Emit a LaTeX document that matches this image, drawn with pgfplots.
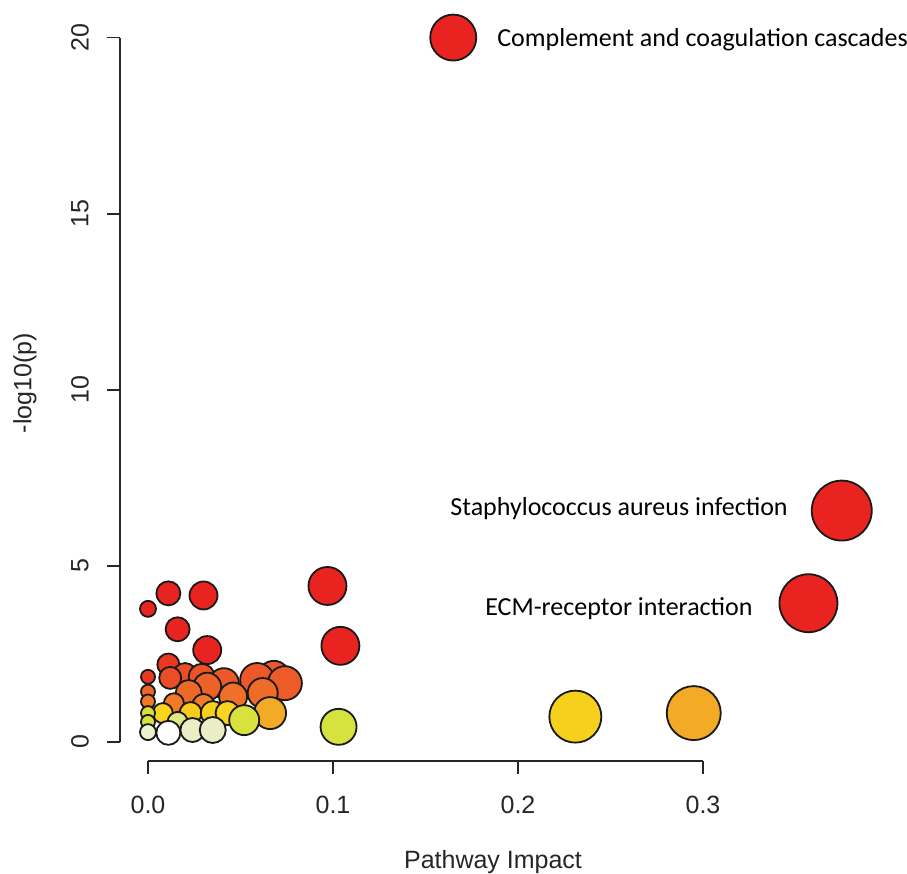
\documentclass[border=0pt]{standalone}
\usepackage{pgfplots}
\pgfplotsset{compat=1.18}
\usepackage{pgfplotstable}
\usepackage{fontspec}
\setmainfont{Liberation Sans}
\newfontfamily\calibri{Carlito}

\pgfplotstableread{
x y r c
0.165 20.00 11.5 7
0.375 6.57 15.0 7
0.097 4.43 9.5 7
0.011 4.22 6.0 7
0.030 4.16 7.0 7
0.357 3.94 14.5 7
0.000 3.78 4.0 7
0.016 3.20 6.0 7
0.104 2.73 9.5 7
0.032 2.61 7.0 7
0.011 2.20 5.5 6.6
0.020 1.90 6.0 6.2
0.000 1.85 3.5 6.6
0.029 1.85 6.5 6.1
0.068 1.85 8.0 6.0
0.012 1.82 5.5 6.2
0.059 1.76 8.5 6.0
0.041 1.67 7.5 6.0
0.074 1.67 8.5 5.9
0.032 1.57 7.0 5.7
0.000 1.43 3.5 5.6
0.022 1.39 6.5 5.5
0.062 1.39 7.5 5.4
0.046 1.29 7.0 5.3
0.000 1.15 3.5 5.0
0.014 1.10 5.0 5.0
0.030 1.05 5.5 4.9
0.295 0.82 13.5 3.8
0.066 0.82 8.0 3.8
0.008 0.82 5.0 3.0
0.023 0.82 5.5 3.2
0.035 0.82 6.0 3.1
0.043 0.82 6.0 3.0
0.000 0.82 3.5 2.2
0.231 0.72 13.0 3.1
0.052 0.62 7.5 2.1
0.000 0.57 3.5 2.0
0.016 0.57 5.0 1.5
0.103 0.43 9.0 2.0
0.024 0.34 6.0 1.0
0.035 0.34 6.5 1.0
0.000 0.28 4.0 0.8
0.011 0.26 6.0 0.0
}\bubbles

\begin{document}
\begin{tikzpicture}
\useasboundingbox (-60pt,-56.5pt) rectangle (393.5pt,380.5pt);
\begin{axis}[
  x=925pt, y=17.61pt,
  xmin=-0.01514, xmax=0.388, ymin=-0.54, ymax=20.9,
  axis lines=none, clip=false,
  colormap={heat}{rgb255=(255,255,255) rgb255=(233,238,196) rgb255=(214,226,64) rgb255=(248,212,28) rgb255=(242,160,40) rgb255=(240,122,40) rgb255=(236,88,40) rgb255=(232,35,32)},
  point meta min=0, point meta max=7,
]
\addplot[scatter, only marks, mark=*, scatter src=explicit,
  scatter/use mapped color={draw=black!90, fill=mapped color},
  mark options={line width=0.9pt},
  visualization depends on={\thisrow{r} \as \rad},
  scatter/@pre marker code/.append style={/tikz/mark size=\rad}]
  table[x=x, y=y, meta=c] {\bubbles};

% y axis
\draw[line width=0.9pt, black!85] (axis cs:-0.01514,0) -- (axis cs:-0.01514,20);
\pgfplotsinvokeforeach{0,5,10,15,20}{
  \draw[line width=0.9pt, black!85] (axis cs:-0.01514,#1) -- ([xshift=-6.5pt]axis cs:-0.01514,#1);
  \node[rotate=90, font=\fontsize{12.5}{14}\selectfont, text=black!85] at ([xshift=-20pt]axis cs:-0.01514,#1) {#1};
}
% x axis
\draw[line width=0.9pt, black!85] (axis cs:0,-0.54) -- (axis cs:0.3,-0.54);
\pgfplotsinvokeforeach{0.0,0.1,0.2,0.3}{
  \draw[line width=0.9pt, black!85] (axis cs:#1,-0.54) -- ([yshift=-6.5pt]axis cs:#1,-0.54);
  \node[font=\fontsize{12.5}{14}\selectfont, text=black!85] at ([yshift=-22pt]axis cs:#1,-0.54) {#1};
}
\node[font=\fontsize{12.5}{14}\selectfont, text=black!85] at ([yshift=-50.5pt]axis cs:0.1865,-0.54) {Pathway Impact};
\node[rotate=90, font=\fontsize{12.5}{14}\selectfont, text=black!85] at ([xshift=-47.5pt]axis cs:-0.01514,10.19) {-log10(p)};

% annotations
\node[anchor=west, inner sep=0pt, font=\calibri\fontsize{13}{15}\selectfont] at (axis cs:0.1886,19.93) {Complement and coagulation cascades};
\node[anchor=east, inner sep=0pt, font=\calibri\fontsize{13}{15}\selectfont] at (axis cs:0.346,6.64) {Staphylococcus aureus infection};
\node[anchor=east, inner sep=0pt, font=\calibri\fontsize{13}{15}\selectfont] at (axis cs:0.327,3.80) {ECM-receptor interaction};
\end{axis}
\end{tikzpicture}
\end{document}
